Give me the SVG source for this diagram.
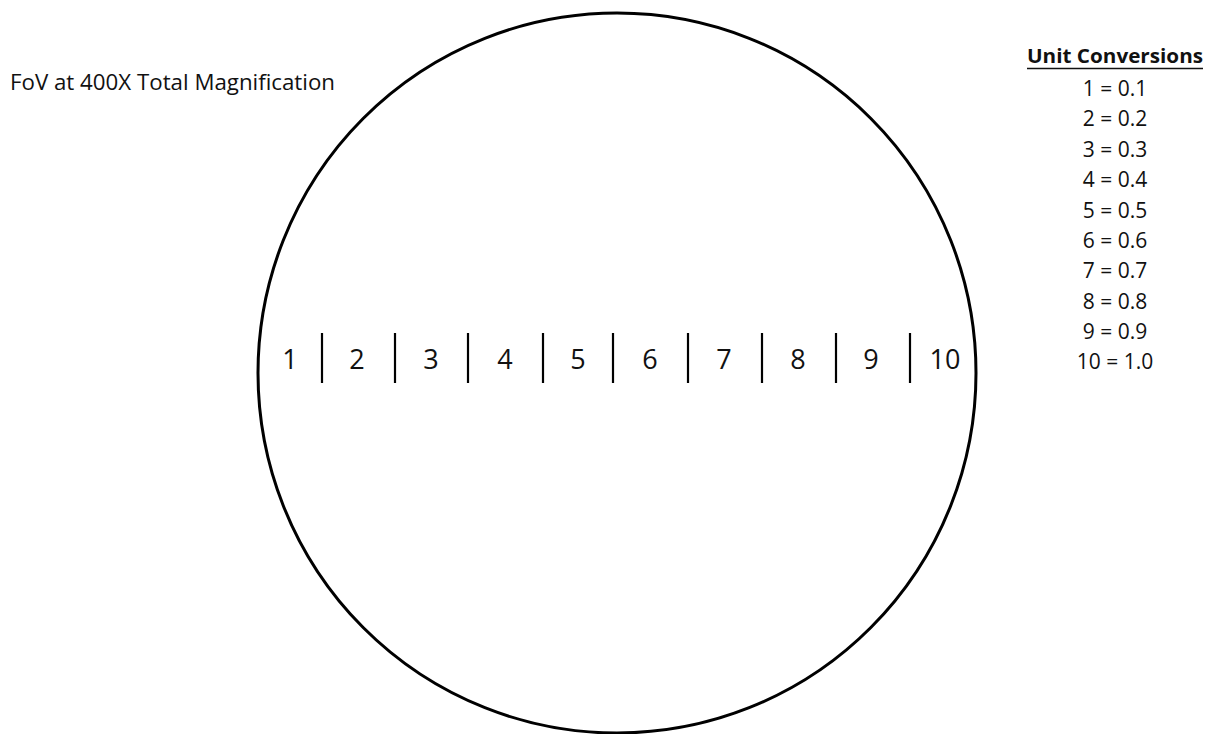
<svg xmlns="http://www.w3.org/2000/svg" width="1210" height="734" viewBox="0 0 1210 734">
<style>
text{font-family:"Open Sans","Liberation Sans",sans-serif;fill:#111}
.num{font-size:27px;text-anchor:middle}
.conv{font-size:21px;text-anchor:middle}
.bar{stroke:#000;stroke-width:2.2}
</style>
<rect width="1210" height="734" fill="#fff"/>
<g id="title"><text x="10" y="90" font-size="22" textLength="325" lengthAdjust="spacingAndGlyphs">FoV at 400X Total Magnification</text></g>
<g id="fov-circle"><ellipse cx="617" cy="373" rx="359" ry="360" fill="none" stroke="#000" stroke-width="3"/></g>
<g id="scale">
<line class="bar" x1="322" y1="333" x2="322" y2="383"/>
<line class="bar" x1="395" y1="333" x2="395" y2="383"/>
<line class="bar" x1="468" y1="333" x2="468" y2="383"/>
<line class="bar" x1="543" y1="333" x2="543" y2="383"/>
<line class="bar" x1="613" y1="333" x2="613" y2="383"/>
<line class="bar" x1="688" y1="333" x2="688" y2="383"/>
<line class="bar" x1="762" y1="333" x2="762" y2="383"/>
<line class="bar" x1="836" y1="333" x2="836" y2="383"/>
<line class="bar" x1="910" y1="333" x2="910" y2="383"/>
<text class="num" x="290" y="369">1</text>
<text class="num" x="357" y="369">2</text>
<text class="num" x="431" y="369">3</text>
<text class="num" x="505" y="369">4</text>
<text class="num" x="578" y="369">5</text>
<text class="num" x="650" y="369">6</text>
<text class="num" x="724" y="369">7</text>
<text class="num" x="798" y="369">8</text>
<text class="num" x="871" y="369">9</text>
<text class="num" x="945" y="369">10</text>
</g>
<g id="unit-conversions">
<text x="1115" y="63" font-size="20" font-weight="bold" text-anchor="middle" textLength="176" lengthAdjust="spacingAndGlyphs">Unit Conversions</text>
<line x1="1027" y1="68.5" x2="1203" y2="68.5" stroke="#111" stroke-width="1.5"/>
<text class="conv" x="1115" y="96">1 = 0.1</text>
<text class="conv" x="1115" y="126">2 = 0.2</text>
<text class="conv" x="1115" y="157">3 = 0.3</text>
<text class="conv" x="1115" y="187">4 = 0.4</text>
<text class="conv" x="1115" y="218">5 = 0.5</text>
<text class="conv" x="1115" y="248">6 = 0.6</text>
<text class="conv" x="1115" y="278">7 = 0.7</text>
<text class="conv" x="1115" y="309">8 = 0.8</text>
<text class="conv" x="1115" y="339">9 = 0.9</text>
<text class="conv" x="1115" y="369">10 = 1.0</text>
</g>
</svg>
